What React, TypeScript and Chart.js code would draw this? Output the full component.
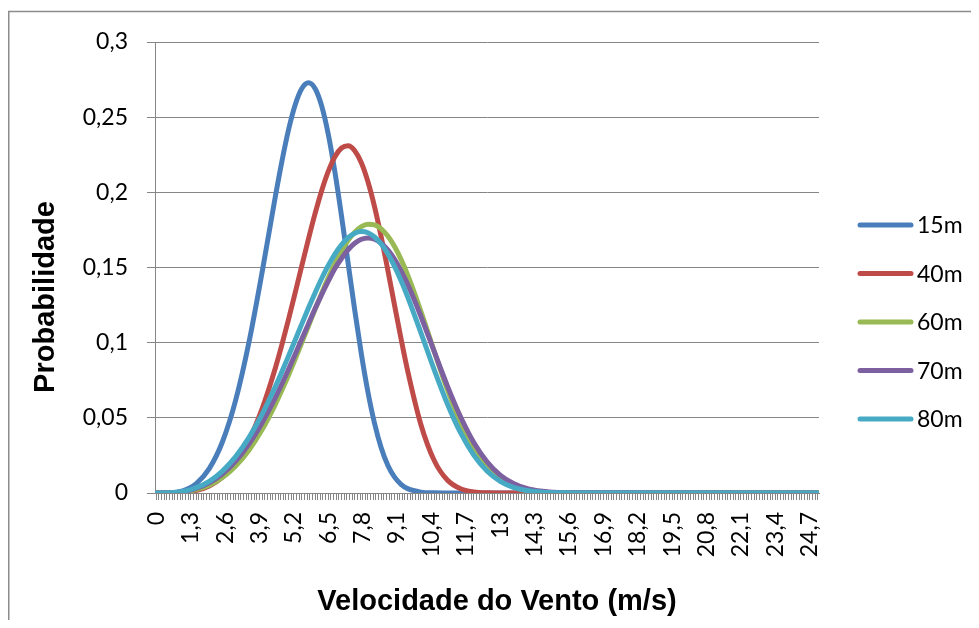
import React, { useEffect, useRef } from 'react';
import { Chart, registerables } from 'chart.js';

Chart.register(...registerables);

// Wind speed axis: 0 to 25 m/s with a tick mark every 0.1 m/s
const speedMin = 0;
const speedMax = 25;
const speedStep = 0.1;
const labelEvery = 13; // a label every 13 steps (1,3 m/s)

// Tick labels shown on the x axis
const tickLabels = ['0', '1,3', '2,6', '3,9', '5,2', '6,5', '7,8', '9,1', '10,4', '11,7', '13', '14,3', '15,6', '16,9', '18,2', '19,5', '20,8', '22,1', '23,4', '24,7'];

const sampleSpeeds = [0, 0.5, 1, 1.5, 2, 2.5, 3, 3.5, 4, 4.5, 4.75, 5, 5.25, 5.5, 5.75, 6, 6.25, 6.5, 6.75, 7, 7.25, 7.5, 7.75, 8, 8.25, 8.5, 8.75, 9, 9.25, 9.5, 10, 10.5, 11, 11.5, 12, 12.5, 13, 13.5, 14, 14.5, 15, 15.5, 16, 25];

const prob15m = [0, 0.0001, 0.0015, 0.0061, 0.0162, 0.0341, 0.0618, 0.1001, 0.147, 0.1973, 0.2209, 0.2418, 0.2583, 0.2691, 0.2729, 0.2691, 0.2575, 0.2386, 0.2136, 0.1844, 0.1529, 0.1217, 0.0926, 0.0671, 0.0462, 0.0301, 0.0185, 0.0107, 0.0058, 0.0029, 0.0006, 0.0001, 0, 0, 0, 0, 0, 0, 0, 0, 0, 0, 0, 0];
const prob40m = [0, 0, 0.0004, 0.0016, 0.0047, 0.0106, 0.0204, 0.0353, 0.0562, 0.0832, 0.0989, 0.1157, 0.1333, 0.1512, 0.1689, 0.1858, 0.2011, 0.2139, 0.2237, 0.2295, 0.231, 0.2277, 0.2197, 0.207, 0.1903, 0.1704, 0.1484, 0.1254, 0.1027, 0.0813, 0.0456, 0.0218, 0.0086, 0.0028, 0.0007, 0.0001, 0, 0, 0, 0, 0, 0, 0, 0];
const prob60m = [0, 0.0001, 0.0006, 0.0022, 0.0052, 0.0103, 0.018, 0.0285, 0.0422, 0.059, 0.0685, 0.0785, 0.0891, 0.1, 0.1111, 0.1221, 0.1329, 0.1432, 0.1526, 0.161, 0.1681, 0.1735, 0.1772, 0.1788, 0.1784, 0.1757, 0.1709, 0.1641, 0.1554, 0.1451, 0.1209, 0.0945, 0.0689, 0.0466, 0.0291, 0.0166, 0.0086, 0.0041, 0.0017, 0.0006, 0.0002, 0.0001, 0, 0];
const prob70m = [0, 0.0001, 0.0009, 0.003, 0.0068, 0.0128, 0.0213, 0.0326, 0.0468, 0.0635, 0.0727, 0.0823, 0.0923, 0.1024, 0.1125, 0.1225, 0.132, 0.1409, 0.1493, 0.156, 0.1618, 0.1661, 0.1688, 0.1697, 0.1689, 0.1662, 0.1617, 0.1556, 0.1478, 0.1388, 0.1176, 0.0943, 0.0713, 0.0507, 0.0336, 0.0208, 0.0119, 0.0063, 0.003, 0.0013, 0.0005, 0.0002, 0.0001, 0];
const prob80m = [0, 0.0002, 0.0011, 0.0035, 0.0078, 0.0146, 0.0242, 0.0368, 0.0524, 0.0708, 0.0808, 0.0912, 0.1018, 0.1125, 0.123, 0.1331, 0.1427, 0.1513, 0.1589, 0.1651, 0.1698, 0.1728, 0.1739, 0.1731, 0.1703, 0.1656, 0.1591, 0.1509, 0.1413, 0.1305, 0.1067, 0.0822, 0.0594, 0.0401, 0.0252, 0.0146, 0.0078, 0.0038, 0.0017, 0.0007, 0.0002, 0.0001, 0, 0];

const seriesNames = ['15m', '40m', '60m', '70m', '80m'];
const seriesColors = ['#4A7EBB', '#BE4B48', '#98B954', '#7D60A0', '#46AAC5'];
const seriesValues = [prob15m, prob40m, prob60m, prob70m, prob80m];

const xTitle = 'Velocidade do Vento (m/s)';
const yTitle = 'Probabilidade';

const tickCount = Math.round((speedMax - speedMin) / speedStep) + 1;
const xTickValues: number[] = [];
for (let i = 0; i < tickCount; i++) xTickValues.push(Number((speedMin + i * speedStep).toFixed(1)));

const GRID = '#868686';
const TICK_FONT = { family: 'Lato, "Noto Sans", sans-serif', size: 23 };

const decorPlugin = {
  id: 'decor',
  afterDraw(chart: any) {
    const ctx = chart.ctx as CanvasRenderingContext2D;
    ctx.save();
    // chart frame (left & top visible)
    ctx.strokeStyle = '#8c8c8c';
    ctx.lineWidth = 1.5;
    ctx.beginPath();
    ctx.moveTo(0.75, chart.height);
    ctx.lineTo(0.75, 3.5);
    ctx.lineTo(chart.width, 3.5);
    ctx.stroke();

    // axis titles
    ctx.fillStyle = '#000';
    ctx.font = 'bold 29px "Liberation Sans", Arial, sans-serif';
    ctx.textAlign = 'center';
    ctx.textBaseline = 'middle';
    ctx.fillText(xTitle, 489, 594);
    ctx.save();
    ctx.translate(38, 289);
    ctx.rotate(-Math.PI / 2);
    ctx.fillText(yTitle, 0, 0);
    ctx.restore();

    // legend
    ctx.font = '23px Lato, "Noto Sans", sans-serif';
    ctx.textAlign = 'left';
    chart.data.datasets.forEach((ds: any, i: number) => {
      const y = 217 + i * 48.5;
      ctx.strokeStyle = ds.borderColor;
      ctx.lineWidth = 5;
      ctx.lineCap = 'round';
      ctx.beginPath();
      ctx.moveTo(852, y);
      ctx.lineTo(903, y);
      ctx.stroke();
      ctx.fillStyle = '#000';
      ctx.fillText(ds.label, 909, y + 1);
    });
    ctx.restore();
  },
};

export default function App() {
  const canvasRef = useRef<HTMLCanvasElement | null>(null);

  useEffect(() => {
    if (!canvasRef.current) return;
    const chart = new Chart(canvasRef.current, {
      type: 'line',
      data: {
        datasets: seriesNames.map((name, i) => ({
          label: name,
          data: sampleSpeeds.map((s, j) => ({ x: s, y: seriesValues[i][j] })),
          borderColor: seriesColors[i],
          backgroundColor: seriesColors[i],
          borderWidth: 5,
          pointRadius: 0,
          pointHoverRadius: 0,
          cubicInterpolationMode: 'monotone',
          fill: false,
          borderJoinStyle: 'round',
          borderCapStyle: 'round',
          order: seriesNames.length - i,
        })),
      },
      options: {
        animation: false,
        responsive: false,
        devicePixelRatio: 1,
        layout: { padding: { top: 34, right: 152, left: 0, bottom: 0 } },
        plugins: {
          legend: { display: false },
          tooltip: { enabled: false },
          title: { display: false },
        },
        scales: {
          x: {
            type: 'linear',
            min: speedMin - speedStep / 2,
            max: speedMax + speedStep / 2,
            afterBuildTicks: (scale: any) => {
              scale.ticks = xTickValues.map((v) => ({ value: v }));
            },
            afterFit: (scale: any) => {
              scale.height = 127;
            },
            grid: {
              display: true,
              drawOnChartArea: false,
              drawTicks: true,
              tickLength: 7,
              color: GRID,
              lineWidth: 1,
            },
            border: { display: true, color: GRID, width: 1 },
            ticks: {
              autoSkip: false,
              maxRotation: 90,
              minRotation: 90,
              padding: 12,
              color: '#000',
              font: TICK_FONT,
              callback: (_v: any, index: number) =>
                index % labelEvery === 0 ? tickLabels[index / labelEvery] ?? '' : '',
            },
          },
          y: {
            min: 0,
            max: 0.3,
            afterFit: (scale: any) => {
              scale.width = 147;
            },
            grid: {
              color: GRID,
              lineWidth: 1,
              drawTicks: true,
              tickLength: 8,
            },
            border: { display: true, color: GRID, width: 1 },
            ticks: {
              stepSize: 0.05,
              padding: 19,
              color: '#000',
              font: TICK_FONT,
              callback: (v: any) => String(Number(Number(v).toFixed(2))).replace('.', ','),
            },
          },
        },
      },
      plugins: [decorPlugin],
    } as any);
    return () => chart.destroy();
  }, []);

  return (
    <div style={{ width: 963, height: 612 }}>
      <canvas ref={canvasRef} width={963} height={612} style={{ display: 'block' }} />
    </div>
  );
}
